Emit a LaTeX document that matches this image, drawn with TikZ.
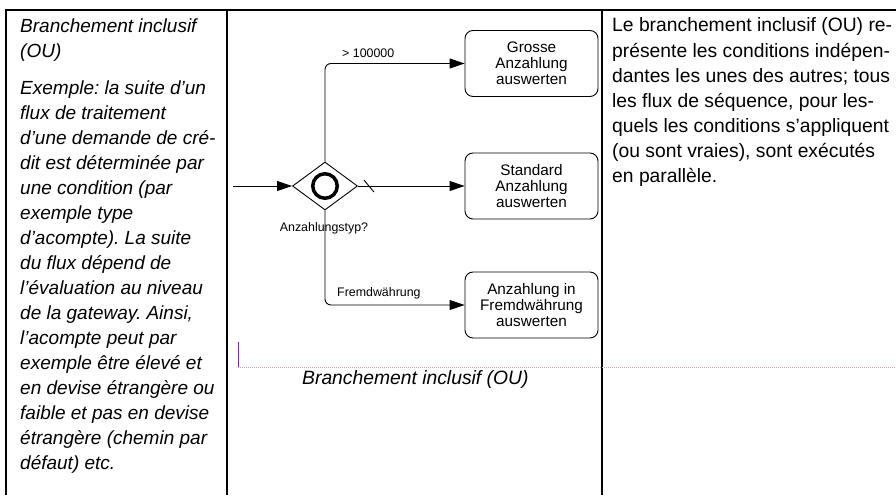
\documentclass[tikz,border=0pt]{standalone}
\usepackage{fontspec}
\setmainfont{Liberation Sans}
\usetikzlibrary{arrows.meta,shapes.geometric}
\definecolor{pviolet}{RGB}{112,48,160}
\definecolor{pdots}{RGB}{195,165,215}
\frenchspacing
\begin{document}
\begin{tikzpicture}[x=1pt,y=-1pt,
  tbl/.style={line width=1.2pt, black},
  task/.style={draw, line width=0.9pt, rounded corners=8pt, minimum width=133pt, minimum height=66pt, inner sep=0pt, align=center, font=\fontsize{15.3}{16}\selectfont},
  gate/.style={draw, diamond, line width=0.9pt, minimum width=65pt, minimum height=48pt, inner sep=0pt},
  ormark/.style={draw, circle, line width=3.5pt, minimum size=24.5pt, inner sep=0pt},
  flow/.style={line width=0.9pt, -{Triangle[length=15pt,width=10pt]}},
  lbl/.style={inner sep=0pt, font=\fontsize{12.4}{14}\selectfont},
  lefttxt/.style={inner sep=0pt, anchor=base west, font=\fontsize{19}{25}\selectfont\itshape},
  righttxt/.style={inner sep=0pt, anchor=base west, font=\fontsize{19.3}{25}\selectfont},
  purpleline/.style={pviolet, line width=1pt},
  dotline/.style={pdots, line width=1pt, densely dotted}
]
\fill[white] (0,0) rectangle (896,495);
\useasboundingbox (0,0) rectangle (896,495);

% table lines
\draw[tbl] (6,495) -- (6,10) -- (896,10);
\draw[tbl] (227,10) -- (227,495);
\draw[tbl] (602,10) -- (602,495);

% left column text
\foreach \t [count=\i] in {{Branchement inclusif},{(OU)}}
  \node[lefttxt] (h\i) at (20,{33+25*(\i-1)}) {\t};
\foreach \t [count=\i] in {{Exemple: la suite d’un},{flux de traitement},{d’une demande de cré-},{dit est déterminée par},{une condition (par},{exemple type},{d’acompte). La suite},{du flux dépend de},{l’évaluation au niveau},{de la gateway. Ainsi,},{l’acompte peut par},{exemple être élevé et},{en devise étrangère ou},{faible et pas en devise},{étrangère (chemin par},{défaut) etc.}}
  \node[lefttxt] (e\i) at (20,{94+25*(\i-1)}) {\t};

% right column text
\foreach \t [count=\i] in {{Le branchement inclusif (OU) re-},{présente les conditions indépen-},{dantes les unes des autres; tous},{les flux de séquence, pour les-},{quels les conditions s’appliquent},{(ou sont vraies), sont exécutés},{en parallèle.}}
  \node[righttxt] (r\i) at (612,{32+25*(\i-1)}) {\t};

% diagram
\node[gate] (gw) at (325,186) {};
\node[ormark] (orc) at (gw) {};
\node[task] (t1) at (531.5,63.5) {Grosse\\Anzahlung\\auswerten};
\node[task] (t2) at (531.5,186) {Standard\\Anzahlung\\auswerten};
\node[task] (t3) at (531.5,305) {Anzahlung in\\Fremdwährung\\auswerten};
\coordinate (in) at (233,186);

\draw[flow] (in) -- (gw.west);
\draw[flow, rounded corners=6pt] (gw.north) |- (t1.west);
\draw[flow] (gw.east) -- (t2.west);
\draw[line width=0.9pt] ([shift={(6,-6)}]gw.east) -- ([shift={(16,6)}]gw.east);
\draw[flow, rounded corners=6pt] (gw.south) |- (t3.west);

\node[lbl, anchor=west] (c1) at (342,53) {> 100000};
\node[lbl] (c2) at (324,228) {Anzahlungstyp?};
\node[lbl, anchor=west] (c3) at (337,293) {Fremdwährung};

% lane marker
\coordinate (pv) at (238,342);
\coordinate (pc) at (238,367);
\coordinate (pe) at (896,367);
\draw[dotline] (pc) -- (pe);
\draw[purpleline] (pv) -- (pc);
\node[anchor=base west, inner sep=0pt, font=\fontsize{19.3}{25}\selectfont\itshape] (cap) at (302,384) {Branchement inclusif (OU)};
\end{tikzpicture}
\end{document}
